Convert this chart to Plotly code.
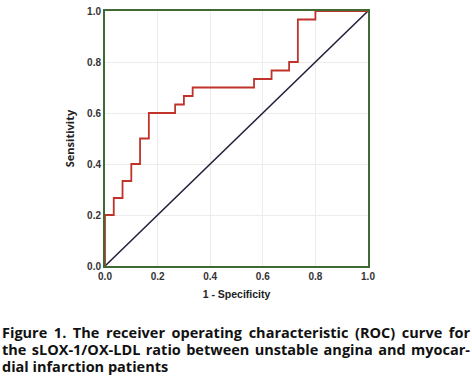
import plotly.graph_objects as go

# ROC curve data (1 - specificity, sensitivity)
fpr = [0.0, 0.0, 0.0333, 0.0333, 0.0667, 0.0667, 0.1, 0.1, 0.1333, 0.1333,
       0.1667, 0.1667, 0.2667, 0.2667, 0.3, 0.3, 0.3333, 0.3333, 0.5667, 0.5667,
       0.6333, 0.6333, 0.7, 0.7, 0.7333, 0.7333, 0.8, 0.8, 1.0]
tpr = [0.0, 0.2, 0.2, 0.2667, 0.2667, 0.3333, 0.3333, 0.4, 0.4, 0.5,
       0.5, 0.6, 0.6, 0.6333, 0.6333, 0.6667, 0.6667, 0.7, 0.7, 0.7333,
       0.7333, 0.7667, 0.7667, 0.8, 0.8, 0.9667, 0.9667, 1.0, 1.0]
ref_x = [0.0, 1.0]
ref_y = [0.0, 1.0]
tick_vals = [0.0, 0.2, 0.4, 0.6, 0.8, 1.0]
tick_text = ["0.0", "0.2", "0.4", "0.6", "0.8", "1.0"]
caption_lines = [
    "Figure 1. The receiver operating characteristic (ROC) curve for",
    "the sLOX-1/OX-LDL ratio between unstable angina and myocar-",
    "dial infarction patients",
]
caption_justify = [True, True, False]

W, H = 472, 392
ML, MR, MT, MB = 105, 104, 5, 126
PW, PH = W - ML - MR, H - MT - MB
JUSTIFY_WIDTH = 468


def px_x(px):
    return (px - ML) / PW


def px_y(py):
    return (H - MB - py) / PH


fig = go.Figure()
fig.add_trace(go.Scatter(x=ref_x, y=ref_y, mode="lines",
                         line=dict(color="#1f1f3a", width=1.5), hoverinfo="skip"))
fig.add_trace(go.Scatter(x=fpr, y=tpr, mode="lines",
                         line=dict(color="#c0332b", width=1.8), hoverinfo="skip"))

axis_common = dict(range=[0, 1], tickvals=tick_vals,
                   ticktext=["<b>" + t + "</b>" for t in tick_text],
                   showgrid=True, gridcolor="#ececec", gridwidth=1,
                   showline=True, linecolor="#3f6a34", linewidth=2, mirror=True,
                   zeroline=False, ticks="", fixedrange=True,
                   tickfont=dict(family="Liberation Sans, Arial", size=10, color="#333333"))

fig.update_xaxes(**axis_common, ticklabelstandoff=0,
                 title=dict(text="<b>1 - Specificity</b>", standoff=10,
                            font=dict(family="Liberation Sans, Arial", size=10.5, color="#222222")))
fig.update_yaxes(**axis_common, ticklabelstandoff=0,
                 title=dict(text="<b>Sensitivity</b>", standoff=10,
                            font=dict(family="Open Sans", size=11, color="#222222")))

fig.update_layout(
    width=W, height=H, showlegend=False,
    paper_bgcolor="white", plot_bgcolor="white",
    margin=dict(l=ML, r=MR, t=MT, b=MB),
)

caption_y = [334, 351.5, 369]
for line, cy in zip(caption_lines, caption_y):
    fig.add_annotation(text="<b>" + line + "</b>",
                       xref="paper", yref="paper", align="left",
                       x=px_x(0), xanchor="left", y=px_y(cy), yanchor="middle",
                       showarrow=False,
                       font=dict(family="Open Sans", size=14.5, color="#111111"))

justify_idx = [i for i, j in enumerate(caption_justify) if j]
post = """
var gd = document.getElementById('{plot_id}');
document.body.style.margin = '0';
%s.forEach(function(i) {
  var t = gd.querySelector('.annotation[data-index="' + i + '"] text.annotation-text');
  if (!t) return;
  var w = t.getComputedTextLength();
  var n = (t.textContent.match(/ /g) || []).length;
  if (n > 0 && w < %d) { t.style.wordSpacing = ((%d - w) / n) + 'px'; }
});
""" % (str(justify_idx), JUSTIFY_WIDTH, JUSTIFY_WIDTH)

fig.write_html("out.html", config={"displayModeBar": False}, post_script=post)
